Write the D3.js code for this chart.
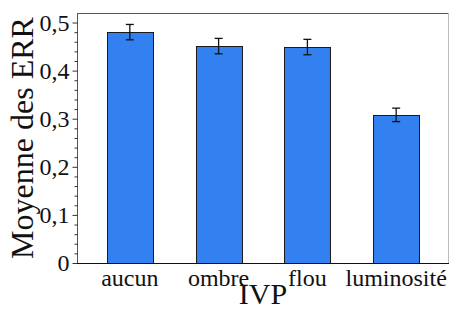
<!DOCTYPE html>
<html><head><meta charset="utf-8">
<script src="https://cdn.jsdelivr.net/npm/d3@7"></script>
<style>body{margin:0;background:#fff}svg{display:block}</style>
</head><body>
<svg id="c" width="450" height="311"></svg>
<script>
const categories = ["aucun", "ombre", "flou", "luminosité"];
const means = [0.480, 0.451, 0.449, 0.308];
const errors = [0.016, 0.016, 0.016, 0.014];
const yTicks = [0, 0.1, 0.2, 0.3, 0.4, 0.5];
const yTickLabels = ["0", "0,1", "0,2", "0,3", "0,4", "0,5"];
const yMinorTicks = d3.range(0, 0.52, 0.02);

const svg = d3.select("#c");
const L = 77, R = 449, T = 13, B = 263;
const font = "'Liberation Serif','Times New Roman',serif";

const x = d3.scaleBand().domain(categories).range([L, R]).paddingInner(0.482).paddingOuter(0.336);
const y = d3.scaleLinear().domain([0, 0.5198]).range([B, T]);

// frame
svg.append("line").attr("x1", L).attr("x2", R).attr("y1", T + 0.5).attr("y2", T + 0.5).attr("stroke", "#555");
svg.append("line").attr("x1", R - 0.5).attr("x2", R - 0.5).attr("y1", T).attr("y2", B).attr("stroke", "#bbb");

// bars
svg.selectAll("rect.bar").data(categories).enter().append("rect")
  .attr("x", d => Math.round(x(d)) + 0.5)
  .attr("y", (d, i) => Math.round(y(means[i])) + 0.5)
  .attr("width", Math.round(x.bandwidth()))
  .attr("height", (d, i) => Math.round(B - y(means[i])))
  .attr("fill", "#3380f0").attr("stroke", "#1a1a1a").attr("stroke-width", 1);

// error bars
const eb = svg.selectAll("g.eb").data(categories).enter().append("g")
  .attr("stroke", "#111").attr("stroke-width", 1.3);
eb.append("line")
  .attr("x1", d => x(d) + x.bandwidth() / 2).attr("x2", d => x(d) + x.bandwidth() / 2)
  .attr("y1", (d, i) => y(means[i] + errors[i])).attr("y2", (d, i) => y(means[i] - errors[i]));
eb.append("line")
  .attr("x1", d => x(d) + x.bandwidth() / 2 - 4).attr("x2", d => x(d) + x.bandwidth() / 2 + 4)
  .attr("y1", (d, i) => y(means[i] + errors[i])).attr("y2", (d, i) => y(means[i] + errors[i]));
eb.append("line")
  .attr("x1", d => x(d) + x.bandwidth() / 2 - 4).attr("x2", d => x(d) + x.bandwidth() / 2 + 4)
  .attr("y1", (d, i) => y(means[i] - errors[i])).attr("y2", (d, i) => y(means[i] - errors[i]));

// y axis
const yAxis = d3.axisLeft(y).tickValues(yTicks).tickFormat((d, i) => yTickLabels[i]).tickSize(5).tickPadding(3);
const ga = svg.append("g").attr("transform", `translate(${L + 0.5},0)`).call(yAxis);
ga.select(".domain").attr("stroke", "#555").attr("d", `M0,${T}V${B}`);
ga.selectAll(".tick line").attr("stroke", "#333");
ga.selectAll("text").attr("font-family", font).attr("font-size", 24).attr("fill", "#111");
const gm = svg.append("g").attr("transform", `translate(${L + 0.5},0)`)
  .call(d3.axisLeft(y).tickValues(yMinorTicks.filter(v => Math.abs(v * 10 - Math.round(v * 10)) > 1e-6)).tickSize(3).tickFormat(""));
gm.select(".domain").remove();
gm.selectAll(".tick line").attr("stroke", "#333");

// x axis
const xAxis = d3.axisBottom(x).tickSize(0).tickPadding(5);
const gx = svg.append("g").attr("transform", `translate(0,${B + 0.5})`).call(xAxis);
gx.select(".domain").attr("stroke", "#111").attr("d", `M${L},0H${R}`);
gx.selectAll("text").attr("font-family", font).attr("font-size", 24).attr("fill", "#111");

// titles
svg.append("text").attr("x", 263).attr("y", 304).attr("text-anchor", "middle")
  .attr("font-family", font).attr("font-size", 30).attr("fill", "#111").text("IVP");
svg.append("text").attr("transform", `translate(33,${(T + B) / 2}) rotate(-90)`).attr("text-anchor", "middle")
  .attr("font-family", font).attr("font-size", 32).attr("fill", "#111").text("Moyenne des ERR");
</script>
</body></html>
